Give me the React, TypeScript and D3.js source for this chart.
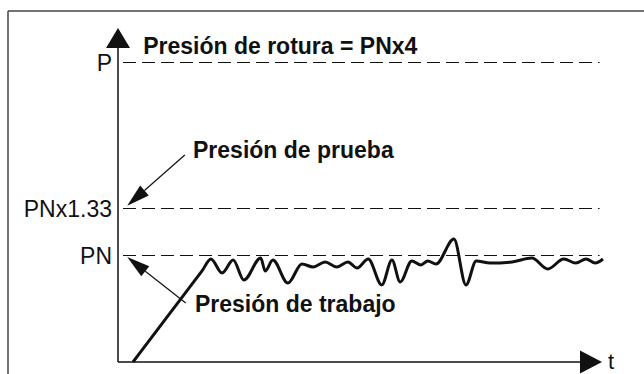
import React from 'react';
import * as d3 from 'd3';

// reference pressure levels (in units of PN) and their labels
const levels = [4, 1.33, 1];
const levelLabels = ['P', 'PNx1.33', 'PN'];

// working pressure trace: time (0-100) and pressure (x PN)
const times = [3.1, 10.0, 17.4, 19.2, 21.5, 23.8, 26.0, 29.5, 30.4, 32.0, 35.1, 38.0, 40.3, 42.8, 45.2, 47.5, 49.4, 51.7,
  54.5, 56.6, 58.3, 60.7, 62.6, 64.0, 65.7, 69.4, 71.9, 74.0, 76.9, 81.4, 85.5, 88.8, 92.1, 94.6, 96.7, 98.6, 100.2];
const pressures = [0, 0.412, 0.854, 0.963, 0.832, 0.953, 0.766, 0.972, 0.850, 0.953, 0.738, 0.916, 0.888, 0.935, 0.888, 0.935, 0.879, 0.963,
  0.720, 0.953, 0.748, 0.944, 0.907, 0.944, 0.916, 1.112, 0.720, 0.944, 0.925, 0.935, 0.972, 0.869, 0.963, 0.925, 0.963, 0.925, 0.963];

const width = 644;
const height = 374;
const font = '"Liberation Sans", Arial, Helvetica, sans-serif';

const App = () => {
  // schematic time axis
  const x = d3.scaleLinear().domain([0, 100]).range([118, 602]);
  // schematic (broken) pressure axis
  const y = d3.scaleLinear().domain([0, 1, 1.33, 4]).range([362, 255, 208, 62]);

  const data = times.map((t, i) => ({ t, p: pressures[i] }));
  const line = d3.line<{ t: number; p: number }>()
    .x(d => x(d.t))
    .y(d => y(d.p))
    .curve(d3.curveMonotoneX);

  const x0 = x(0);
  const y0 = y(0);
  const yTop = 28;
  const xEnd = x(100);

  // pointer arrow: line plus filled head at the tip
  const pointer = (tx: number, ty: number, fx: number, fy: number, key: string) => {
    const ang = Math.atan2(ty - fy, tx - fx);
    const len = 23;
    const half = 6.5;
    const bx = tx - len * Math.cos(ang);
    const by = ty - len * Math.sin(ang);
    const px = -Math.sin(ang) * half;
    const py = Math.cos(ang) * half;
    return (
      <g key={key}>
        <line x1={fx} y1={fy} x2={bx} y2={by} stroke="#111" strokeWidth={1.2} />
        <path d={`M${tx},${ty}L${bx + px},${by + py}L${bx - px},${by - py}Z`} fill="#111" />
      </g>
    );
  };

  return (
    <svg width={width} height={height} style={{ position: 'absolute', left: 0, top: 0, background: '#fff' }}>
      {/* frame */}
      <line x1={8} y1={11} x2={width} y2={11} stroke="#444" strokeWidth={1.5} />
      <line x1={8} y1={11} x2={8} y2={height} stroke="#444" strokeWidth={1.5} />

      {/* reference levels */}
      {levels.map((l, i) => (
        <g key={l}>
          <line x1={x0 + 5} x2={x(99.5)} y1={Math.round(y(l)) + 0.5} y2={Math.round(y(l)) + 0.5}
            stroke="#111" strokeWidth={1} strokeDasharray="13,6" />
          <text x={x0 - 6} y={y(l) + 9} textAnchor="end" fontFamily={font} fontSize={23} fill="#111">
            {levelLabels[i]}
          </text>
        </g>
      ))}

      {/* axes */}
      <line x1={x0} y1={y0} x2={x0} y2={yTop + 20} stroke="#111" strokeWidth={1.5} />
      <path d={`M${x0},${yTop}L${x0 - 12},${yTop + 20}L${x0 + 12},${yTop + 20}Z`} fill="#111" />
      <line x1={x0} y1={y0} x2={xEnd - 22} y2={y0} stroke="#111" strokeWidth={1.5} />
      <path d={`M${xEnd},${y0}L${xEnd - 22},${y0 - 11.5}L${xEnd - 22},${y0 + 11.5}Z`} fill="#111" />
      <text x={xEnd + 6} y={y0 + 7} fontFamily={font} fontSize={22} fill="#111">t</text>

      {/* pressure trace */}
      <path d={line(data) || ''} fill="none" stroke="#111" strokeWidth={3} strokeLinejoin="round" />

      {/* annotations */}
      <text x={x(5.2)} y={y(4) - 8} fontFamily={font} fontSize={23} fontWeight="bold" fill="#111">
        Presión de rotura = PNx4
      </text>
      <text x={x(15.5)} y={y(2.3) + 3} fontFamily={font} fontSize={23} fontWeight="bold" fill="#111">
        Presión de prueba
      </text>
      {pointer(x(1.9), y(1.372), x(13.8), y(2.3), 'prueba')}
      <text x={x(15.9)} y={y(0.551) + 9} fontFamily={font} fontSize={23} fontWeight="bold" fill="#111">
        Presión de trabajo
      </text>
      {pointer(x(1.9), y(0.981), x(14.0), y(0.551), 'trabajo')}
    </svg>
  );
};

export default App;
